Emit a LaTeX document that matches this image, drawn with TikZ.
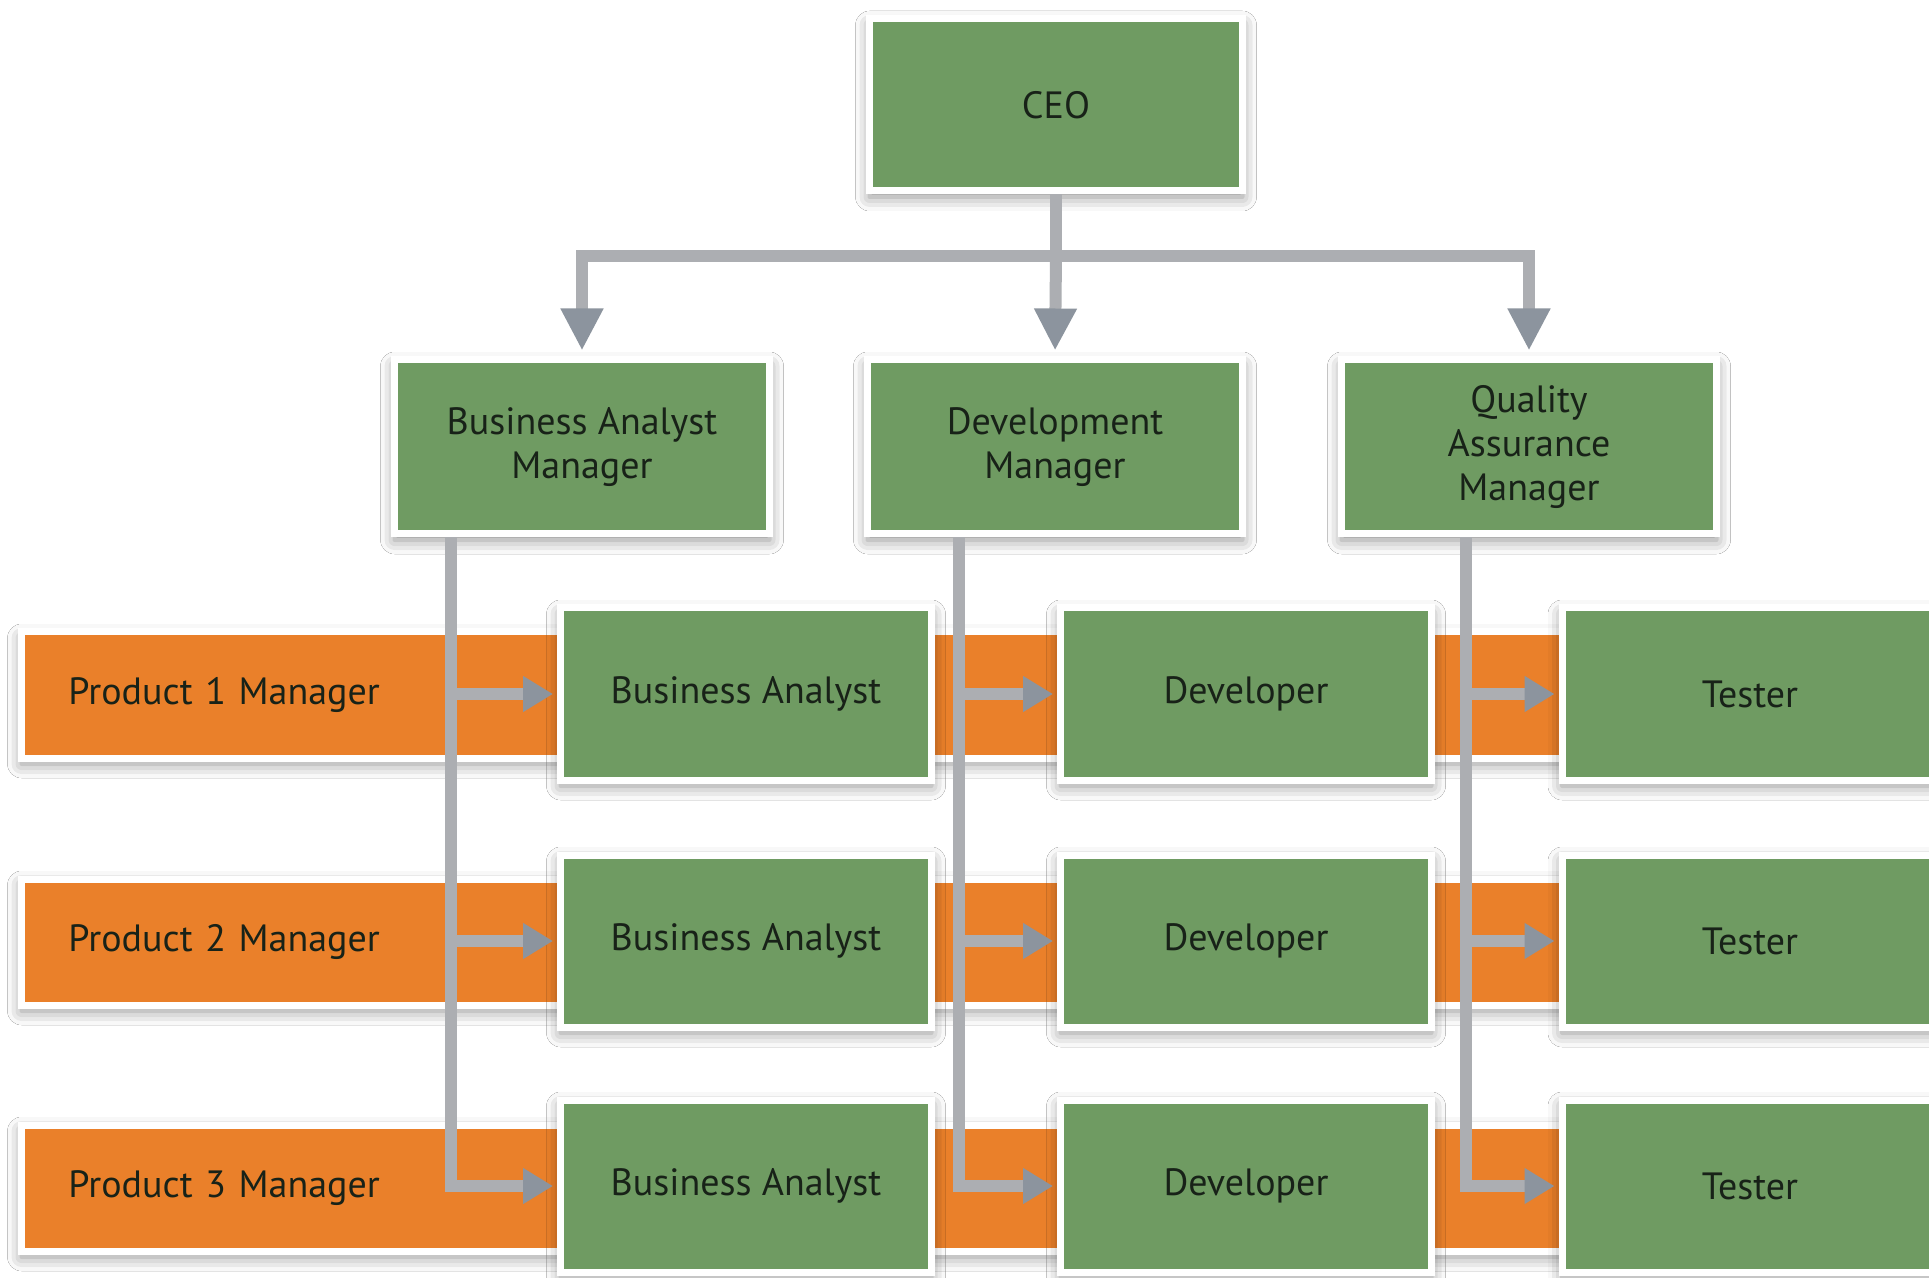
\documentclass[tikz,border=0pt]{standalone}
\usepackage{fontspec}
\setmainfont{PT Sans}
\usetikzlibrary{arrows.meta,calc,shadows.blur}
\definecolor{boxgreen}{RGB}{111,155,98}
\definecolor{barorange}{RGB}{234,128,42}
\definecolor{lineg}{RGB}{172,174,178}
\definecolor{headg}{RGB}{140,148,158}
\definecolor{txtd}{RGB}{24,34,24}
\begin{document}
\begin{tikzpicture}[x=0.5pt,y=-0.5pt,
  shad/.style={blur shadow={shadow xshift=0pt, shadow yshift=-3pt, shadow blur radius=7pt, shadow opacity=45}},
  gbox/.style={shad, draw=white, line width=3.5pt, fill=boxgreen, minimum width=185.5pt, minimum height=86pt, inner sep=0pt, align=center, font=\fontsize{19}{22}\selectfont, text=txtd},
  obar/.style={shad, draw=white, line width=3.5pt, fill=barorange, minimum height=63pt, inner xsep=23.5pt, inner ysep=0pt, text width=915.5pt, align=left, font=\fontsize{19}{22}\selectfont, text=txtd},
  conn/.style={draw=lineg, line width=6pt},
  downarr/.style={conn, shorten >=3pt, -{Triangle[width=20pt,length=21pt,color=headg]}},
  harr/.style={conn, line width=6pt, shorten >=2pt, -{Triangle[width=17pt,length=15pt,color=headg]}}
]
\useasboundingbox (0,0) rectangle (1929,1278);
\clip (0,0) rectangle (1929,1278);
\fill[white] (0,0) rectangle (1929,1278);

% orange product bars
\node[obar] (p1) at (984,695) {Product 1 Manager};
\node[obar] (p2) at (984,942) {Product 2 Manager};
\node[obar] (p3) at (984,1188) {Product 3 Manager};

% top level
\node[gbox, minimum width=186.5pt] (ceo) at (1056,105) {CEO};
\node[gbox, minimum width=187.5pt, minimum height=87pt] (bam) at (582,447) {Business Analyst\\Manager};
\node[gbox, minimum width=187.5pt, minimum height=87pt] (dm) at (1055,447) {Development\\Manager};
\node[gbox, minimum width=187.5pt, minimum height=87pt] (qam) at (1529,447) {Quality\\Assurance\\Manager};

% staff boxes
\node[gbox] (ba1) at (746,694) {Business Analyst};
\node[gbox] (ba2) at (746,941) {Business Analyst};
\node[gbox] (ba3) at (746,1186) {Business Analyst};
\node[gbox] (dev1) at (1246,694) {Developer};
\node[gbox] (dev2) at (1246,941) {Developer};
\node[gbox] (dev3) at (1246,1186) {Developer};
\node[gbox, minimum width=188pt] (t1) at (1750,694) {Tester};
\node[gbox, minimum width=188pt] (t2) at (1750,941) {Tester};
\node[gbox, minimum width=188pt] (t3) at (1750,1186) {Tester};

% CEO connectors
\coordinate (jn) at (1056,256);
\draw[conn] (ceo.south) -- (jn);
\draw[conn, line cap=rect] (bam.north |- jn) -- (qam.north |- jn);
\draw[downarr] (bam.north |- jn) -- (bam.north);
\draw[downarr] (jn) -- (dm.north);
\draw[downarr] (qam.north |- jn) -- (qam.north);

% manager lines
\coordinate (vba) at ($(bam.south west)+(60,0)$);
\coordinate (vdm) at ($(dm.south west)+(95,0)$);
\coordinate (vqa) at ($(qam.south west)+(128,0)$);

\draw[harr] (vba) |- (ba3.west);
\draw[harr] (vba |- ba1.west) -- (ba1.west);
\draw[harr] (vba |- ba2.west) -- (ba2.west);

\draw[harr] (vdm) |- (dev3.west);
\draw[harr] (vdm |- dev1.west) -- (dev1.west);
\draw[harr] (vdm |- dev2.west) -- (dev2.west);

\draw[harr] (vqa) |- (t3.west);
\draw[harr] (vqa |- t1.west) -- (t1.west);
\draw[harr] (vqa |- t2.west) -- (t2.west);
\end{tikzpicture}
\end{document}
